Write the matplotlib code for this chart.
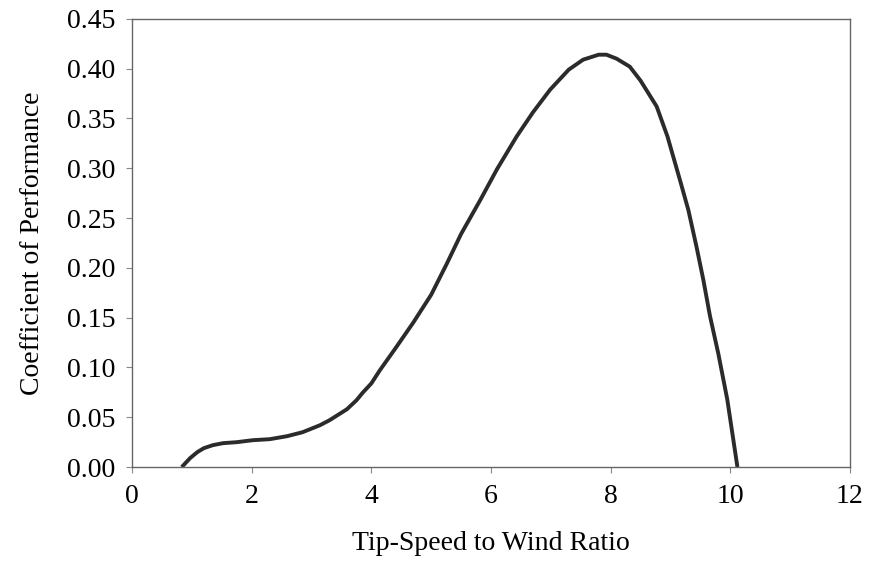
import matplotlib
matplotlib.use("Agg")
import matplotlib.pyplot as plt

# values
tsr = [0.83, 0.97, 1.09, 1.2, 1.35, 1.52, 1.75, 2.02, 2.3, 2.59, 2.85, 3.14, 3.3,
       3.59, 3.75, 3.86, 4.0, 4.14, 4.4, 4.7, 5.0, 5.26, 5.5, 5.82, 6.1, 6.43,
       6.7, 6.99, 7.3, 7.54, 7.8, 7.93, 8.1, 8.32, 8.5, 8.77, 8.95, 9.16, 9.3,
       9.44, 9.55, 9.66, 9.8, 9.95, 10.12]
cp = [0.0, 0.009, 0.015, 0.019, 0.022, 0.024, 0.025, 0.027, 0.028, 0.031, 0.035, 0.042, 0.047,
      0.058, 0.067, 0.075, 0.084, 0.097, 0.119, 0.145, 0.173, 0.204, 0.234, 0.268, 0.299, 0.332,
      0.356, 0.379, 0.399, 0.409, 0.414, 0.414, 0.410, 0.402, 0.388, 0.362, 0.332, 0.288, 0.258,
      0.220, 0.188, 0.152, 0.114, 0.068, 0.0]
xticks = [0, 2, 4, 6, 8, 10, 12]
yticks = [0.00, 0.05, 0.10, 0.15, 0.20, 0.25, 0.30, 0.35, 0.40, 0.45]

plt.rcParams['font.family'] = ['Liberation Serif', 'DejaVu Serif']

fig = plt.figure(figsize=(8.69, 5.71), dpi=100)
ax = fig.add_axes([0.152, 0.182, 0.826, 0.785])
ax.plot(tsr, cp, color='#2b2b2b', lw=2.8, solid_joinstyle='round', solid_capstyle='butt')

ax.set_xlim(0, 12)
ax.set_ylim(0, 0.45)
ax.set_xticks(xticks)
ax.set_yticks(yticks)
ax.set_yticklabels(["%.2f" % v for v in yticks])
ax.tick_params(labelsize=20, length=4, color='#888888', pad=8)
for s in ax.spines.values():
    s.set_color('#666666')
    s.set_linewidth(1.0)

ax.set_xlabel("Tip-Speed to Wind Ratio", fontsize=20, labelpad=16)
ax.set_ylabel("Coefficient of Performance", fontsize=20, labelpad=16)

fig.savefig("out.png", dpi=100)
